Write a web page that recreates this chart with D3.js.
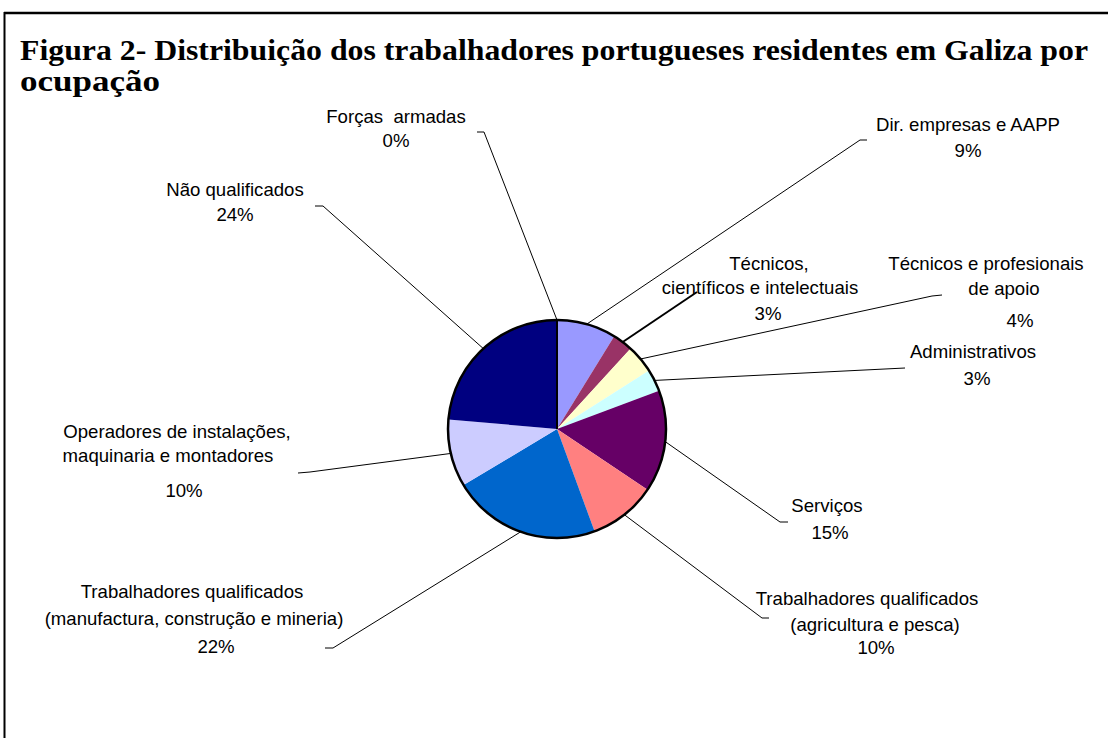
<!DOCTYPE html>
<html>
<head>
<meta charset="utf-8">
<script src="https://cdn.jsdelivr.net/npm/d3@7"></script>
<style>
  body { margin: 0; background: #fff; }
  svg { display: block; }
</style>
</head>
<body>
<div id="chart"></div>
<script>
const svgWidth = 1108
const svgHeight = 738

// data, clockwise from 12 o'clock
const categories = [
  "Dir. empresas e AAPP",
  "Técnicos, científicos e intelectuais",
  "Técnicos e profesionais de apoio",
  "Administrativos",
  "Serviços",
  "Trabalhadores qualificados (agricultura e pesca)",
  "Trabalhadores qualificados (manufactura, construção e mineria)",
  "Operadores de instalações, maquinaria e montadores",
  "Não qualificados",
  "Forças armadas"
]
const values = [8.8, 3.0, 4.2, 3.3, 15.1, 10.0, 22.0, 10.0, 23.6, 0]
const pctLabels = ["9%", "3%", "4%", "3%", "15%", "10%", "22%", "10%", "24%", "0%"]
const sliceColors = ["#9999ff", "#993366", "#ffffcc", "#ccffff", "#660066",
  "#ff8080", "#0066cc", "#ccccff", "#000080", "#ffffff"]

// label text lines (the percentage is added as last line)
const labelLines = [
  ["Dir. empresas e AAPP"],
  ["Técnicos,", "científicos e intelectuais"],
  ["Técnicos e profesionais", "de apoio"],
  ["Administrativos"],
  ["Serviços"],
  ["Trabalhadores qualificados", "(agricultura e pesca)"],
  ["Trabalhadores qualificados", "(manufactura, construção e mineria)"],
  ["Operadores de instalações,", "maquinaria e montadores"],
  ["Não qualificados"],
  ["Forças  armadas"]
]

// layout: where each label sits and where its leader line bends
const labelPos = [
  { xs: [968, 968], ys: [131, 157], elbow: [860, 140], tip: [867, 140] },
  { xs: [769, 760, 768], ys: [270, 294, 320], elbow: [697, 292], tip: null, w: 2 },
  { xs: [986, 1004, 1020], ys: [270, 295, 327], elbow: [932, 296], tip: [942, 295] },
  { xs: [973, 977], ys: [358, 385], elbow: [905, 368], tip: null },
  { xs: [827, 830], ys: [512, 539], elbow: [780, 522], tip: [788, 522] },
  { xs: [867, 875, 876], ys: [605, 631, 654], elbow: [762, 618], tip: [769, 618] },
  { xs: [192, 194, 216], ys: [598, 625, 653], elbow: [333, 648], tip: [325, 648] },
  { xs: [177, 168, 184], ys: [438, 462, 497], elbow: [310, 472], tip: [298, 473] },
  { xs: [235, 235], ys: [196, 221], elbow: [323, 206], tip: [315, 206] },
  { xs: [396, 396], ys: [123, 147], elbow: [484, 132], tip: [477, 132] }
]

const cx = 557, cy = 429, radius = 109

let svg = d3.select("#chart")
  .append("svg")
  .attr("width", svgWidth)
  .attr("height", svgHeight)

// frame
svg.append("line")
  .attr("x1", 4).attr("y1", 13).attr("x2", svgWidth).attr("y2", 13)
  .attr("stroke", "#000").attr("stroke-width", 2.5)
svg.append("line")
  .attr("x1", 4.5).attr("y1", 12).attr("x2", 4.5).attr("y2", svgHeight)
  .attr("stroke", "#000").attr("stroke-width", 2)

// title
svg.append("text")
  .attr("x", 20).attr("y", 60)
  .attr("font-family", "'Liberation Serif', 'DejaVu Serif', serif")
  .attr("font-weight", "bold")
  .attr("font-size", "30px")
  .attr("textLength", 1068)
  .attr("lengthAdjust", "spacingAndGlyphs")
  .text("Figura 2- Distribuição dos trabalhadores portugueses residentes em Galiza por")
svg.append("text")
  .attr("x", 20).attr("y", 91)
  .attr("font-family", "'Liberation Serif', 'DejaVu Serif', serif")
  .attr("font-weight", "bold")
  .attr("font-size", "30px")
  .attr("textLength", 140)
  .attr("lengthAdjust", "spacingAndGlyphs")
  .text("ocupação")

let pie = d3.pie().sort(null).value(d => d)
let arcs = pie(values)
let arc = d3.arc().innerRadius(0).outerRadius(radius)

let g = svg.append("g").attr("transform", "translate(" + cx + "," + cy + ")")

g.selectAll("path.slice")
  .data(arcs)
  .enter()
  .append("path")
  .attr("class", "slice")
  .attr("d", arc)
  .attr("fill", (d, i) => sliceColors[i])

// zero slices still show as a radial line
arcs.filter(d => d.value === 0).forEach(d => {
  g.append("line")
    .attr("x1", 0).attr("y1", 0)
    .attr("x2", radius * Math.sin(d.startAngle))
    .attr("y2", -radius * Math.cos(d.startAngle))
    .attr("stroke", "#000").attr("stroke-width", 2)
})

g.append("circle")
  .attr("r", radius)
  .attr("fill", "none")
  .attr("stroke", "#000")
  .attr("stroke-width", 2.5)

// leader lines
arcs.forEach((d, i) => {
  let p = labelPos[i]
  let mid = (d.startAngle + d.endAngle) / 2
  let px = cx + radius * Math.sin(mid)
  let py = cy - radius * Math.cos(mid)
  let pts = [[px, py], p.elbow]
  if (p.tip) pts.push(p.tip)
  svg.append("path")
    .attr("d", d3.line()(pts))
    .attr("fill", "none")
    .attr("stroke", "#000")
    .attr("stroke-width", p.w || 1)
})

// labels
labelLines.forEach((lines, i) => {
  let p = labelPos[i]
  let all = lines.concat([pctLabels[i]])
  all.forEach((t, j) => {
    svg.append("text")
      .attr("x", p.xs[j])
      .attr("y", p.ys[j])
      .attr("text-anchor", "middle")
      .attr("font-family", "'Liberation Sans', Arial, sans-serif")
      .attr("font-size", "18.6px")
      .attr("fill", "#000")
      .style("white-space", "pre")
      .text(t)
  })
})
</script>
</body>
</html>
